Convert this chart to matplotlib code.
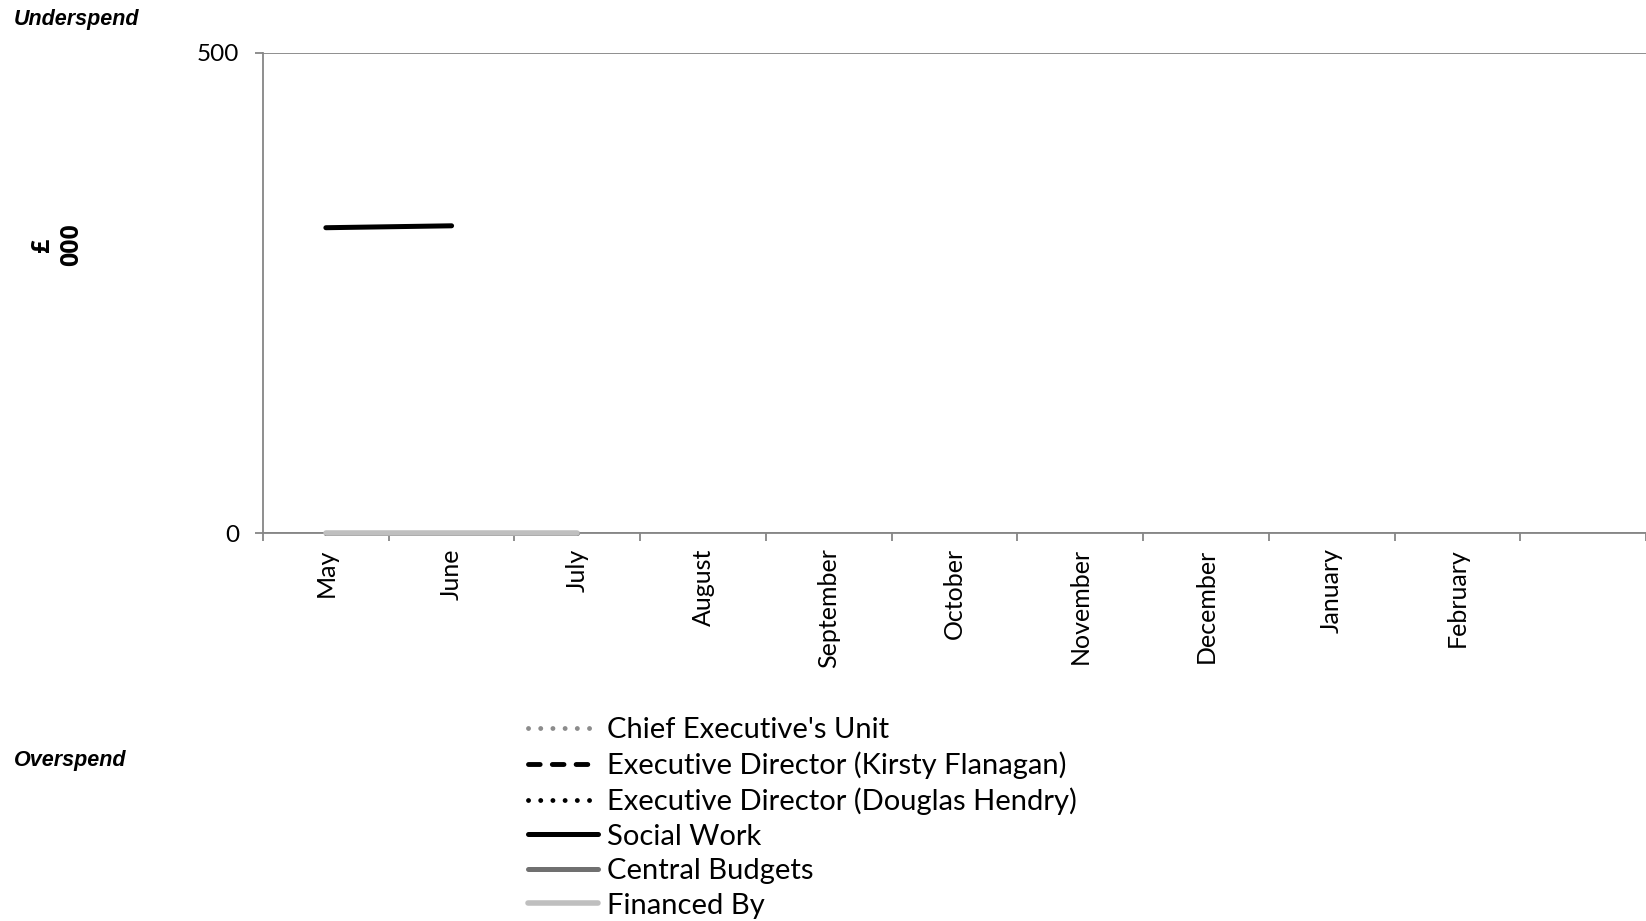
import numpy as np
import matplotlib
matplotlib.use("Agg")
import matplotlib.pyplot as plt

# month categories along the x axis (last slot has no label in the reference)
months = ["May", "June", "July", "August", "September", "October",
          "November", "December", "January", "February", ""]

# values in £000 (positive = underspend)
chief_exec = [0, 0, 0]
exec_kirsty = [0, 0, 0]
exec_douglas = [0, 0, 0]
social_work = [318, 320]
central_budgets = [0, 0, 0]
financed_by = [0, 0, 0]

plt.rcParams['font.family'] = ['Lato', 'DejaVu Sans']

fig = plt.figure(figsize=(16.46, 9.21), dpi=100)
ax = fig.add_axes([263/1646, 1-533/921, 1-263/1646, (533-53)/921])

x = np.arange(len(months)) + 0.5
dots = (0, (0.01, 2.5))
ax.plot(x[:len(chief_exec)], chief_exec, color="#8c8c8c", lw=3.5, ls=dots,
        dash_capstyle="round", label="Chief Executive's Unit", zorder=2, clip_on=False)
ax.plot(x[:len(exec_kirsty)], exec_kirsty, color="black", lw=3.5, ls=(0, (2.4, 2.5)),
        dash_capstyle="round", label="Executive Director (Kirsty Flanagan)", zorder=2, clip_on=False)
ax.plot(x[:len(exec_douglas)], exec_douglas, color="black", lw=3.5, ls=dots,
        dash_capstyle="round", label="Executive Director (Douglas Hendry)", zorder=2, clip_on=False)
ax.plot(x[:len(social_work)], social_work, color="black", lw=3.6,
        solid_capstyle="round", label="Social Work", zorder=3)
ax.plot(x[:len(central_budgets)], central_budgets, color="#707070", lw=3.6,
        solid_capstyle="round", label="Central Budgets", zorder=3, clip_on=False)
ax.plot(x[:len(financed_by)], financed_by, color="#bfbfbf", lw=4,
        solid_capstyle="round", label="Financed By", zorder=4, clip_on=False)

ax.set_xlim(0, len(months))
ax.set_ylim(0, 500)
ax.set_yticks([0, 500])
ax.set_xticks(np.arange(len(months) + 1))
ax.set_xticklabels([])
ax.set_xticks(x, minor=True)
ax.set_xticklabels(months, minor=True, rotation=90, fontsize=18, va="top")
ax.tick_params(axis="x", which="major", length=6, width=1.3, color="#868686", direction="out")
ax.tick_params(axis="x", which="minor", length=0, pad=11)
ax.tick_params(axis="y", length=6, width=1.3, color="#868686", pad=11, labelsize=17.5)
ax.yaxis.grid(True, color="#868686", lw=1.3)
ax.set_axisbelow(True)
for s in ["top", "right"]:
    ax.spines[s].set_visible(False)
for s in ["left", "bottom"]:
    ax.spines[s].set_color("#868686")
    ax.spines[s].set_linewidth(1.3)
ax.spines["bottom"].set_zorder(1)

fig.text(57/1646, 1-245/921, "£\n000", rotation=90, ha="center", va="center",
         fontsize=18, fontweight="bold", family="Open Sans", linespacing=1.25,
         multialignment="center")
fig.text(14/1646, 1-20/921, "Underspend", fontsize=15.5, fontweight="bold", style="italic",
         family="Liberation Sans", ha="left", va="center")
fig.text(14/1646, 1-760/921, "Overspend", fontsize=15.5, fontweight="bold", style="italic",
         family="Liberation Sans", ha="left", va="center")

fig.legend(loc="upper left", bbox_to_anchor=(528/1646, 1-717/921), frameon=False,
           fontsize=21, handlelength=2.4, handletextpad=0.3, labelspacing=0.29,
           borderaxespad=0, borderpad=0)

fig.savefig("out.png", dpi=100)
